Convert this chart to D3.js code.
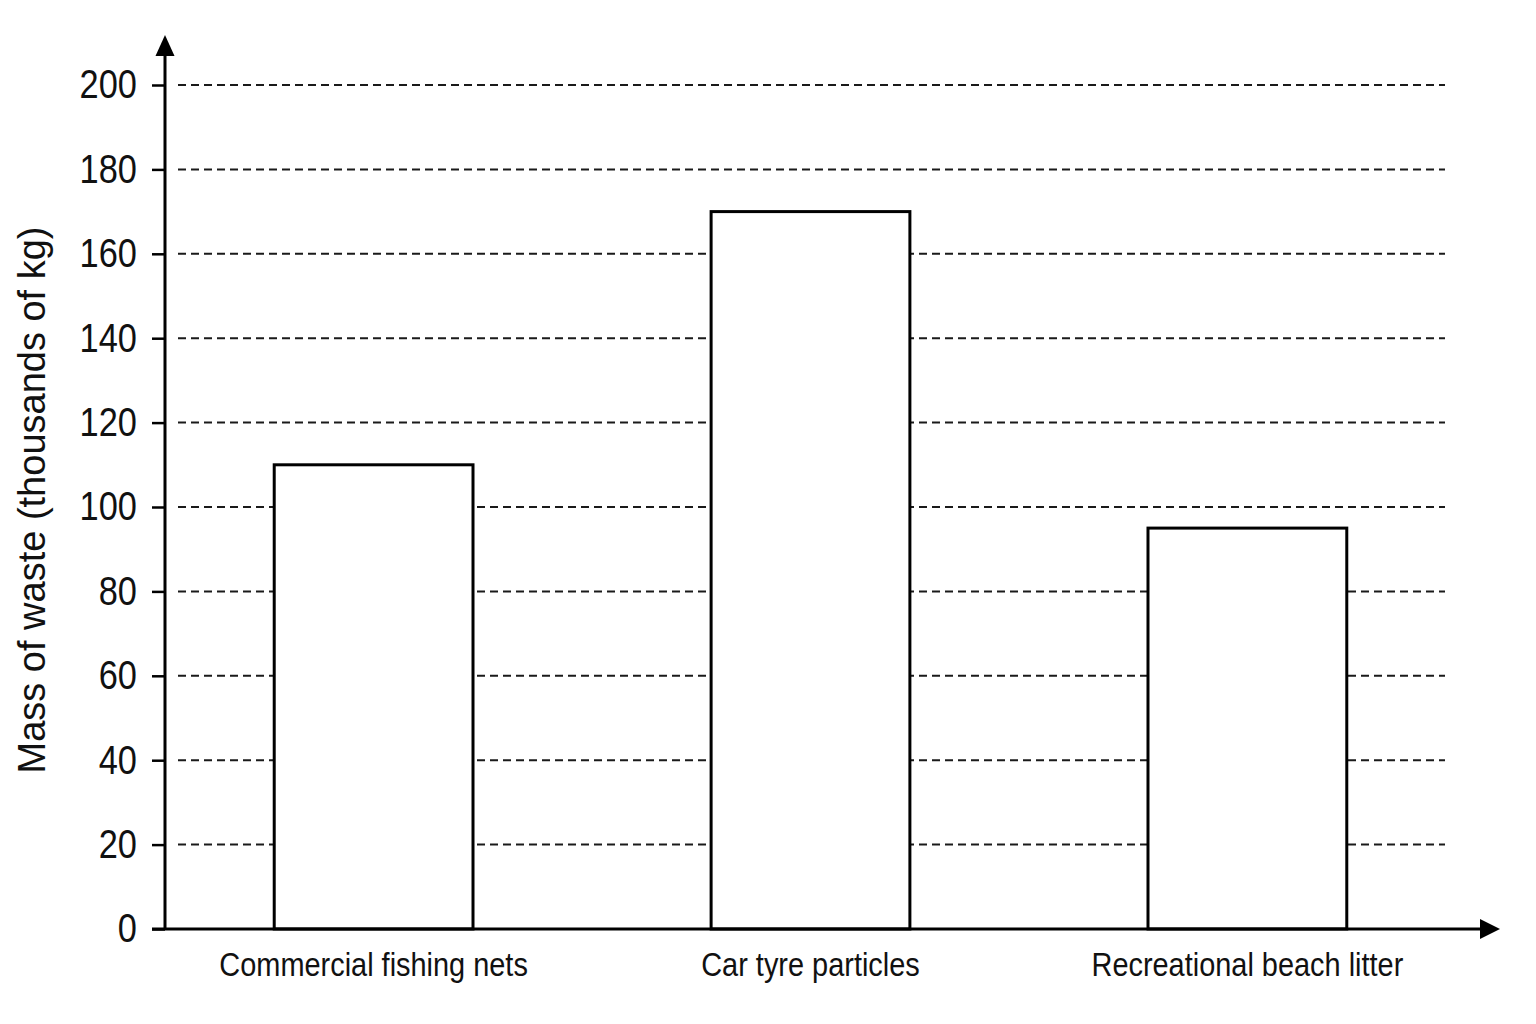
<!DOCTYPE html>
<html>
<head>
<meta charset="utf-8">
<script src="https://cdn.jsdelivr.net/npm/d3@7"></script>
<style>
  html, body { margin: 0; padding: 0; background: #fff; }
  svg { display: block; }
</style>
</head>
<body>
<svg id="chart"></svg>
<script>
const categories = ["Commercial fishing nets", "Car tyre particles", "Recreational beach litter"];
const values = [110, 170, 95];
const yTicks = [0, 20, 40, 60, 80, 100, 120, 140, 160, 180, 200];
const yTitle = "Mass of waste (thousands of kg)";

const width = 1536;
const height = 1024;
const font = "'Liberation Sans', Arial, sans-serif";

const svg = d3.select("#chart")
  .attr("width", width)
  .attr("height", height)
  .attr("viewBox", `0 0 ${width} ${height}`);

svg.append("rect").attr("width", width).attr("height", height).attr("fill", "#fff");

// scales
const x = d3.scaleBand()
  .domain(categories)
  .range([165, 1456])
  .paddingInner(0.545)
  .paddingOuter(0.25);

const y = d3.scaleLinear()
  .domain([0, 200])
  .range([929, 85]);

const x0 = x.range()[0];

// dashed grid lines (behind bars)
svg.append("g")
  .selectAll("line")
  .data(yTicks.filter((d) => d > 0))
  .enter()
  .append("line")
  .attr("x1", x0 + 13)
  .attr("x2", 1445)
  .attr("y1", (d) => y(d))
  .attr("y2", (d) => y(d))
  .attr("stroke", "#1a1a1a")
  .attr("stroke-width", 2)
  .attr("stroke-dasharray", "8 5");

// bars
svg.append("g")
  .selectAll("rect")
  .data(values)
  .enter()
  .append("rect")
  .attr("x", (d, i) => x(categories[i]))
  .attr("y", (d) => y(d))
  .attr("width", x.bandwidth())
  .attr("height", (d) => y(0) - y(d))
  .attr("fill", "#fff")
  .attr("stroke", "#000")
  .attr("stroke-width", 3);

// y axis ticks + labels
const yAxis = d3.axisLeft(y)
  .tickValues(yTicks)
  .tickSize(13)
  .tickPadding(15)
  .tickFormat(d3.format("d"));

const gy = svg.append("g")
  .attr("transform", `translate(${x0},0)`)
  .call(yAxis);

gy.select(".domain").remove();
gy.selectAll(".tick line").attr("stroke", "#000").attr("stroke-width", 2.5);
// narrow-looking digits: squeeze horizontally
const tickSqueeze = 0.86;
gy.selectAll(".tick text")
  .attr("fill", "#111")
  .attr("x", -28 / tickSqueeze)
  .attr("transform", `scale(${tickSqueeze},1)`)
  .style("font-family", font)
  .style("font-size", "40px");

// axis lines with arrows
const yTop = y(200) - 50;
svg.append("line")
  .attr("x1", x0).attr("x2", x0)
  .attr("y1", y(0)).attr("y2", yTop + 20)
  .attr("stroke", "#000").attr("stroke-width", 3);
svg.append("path")
  .attr("d", `M${x0},${yTop} L${x0 - 9.5},${yTop + 21} L${x0 + 9.5},${yTop + 21} Z`)
  .attr("fill", "#000");

const xEnd = 1500;
svg.append("line")
  .attr("x1", x0 - 13).attr("x2", xEnd - 18)
  .attr("y1", y(0)).attr("y2", y(0))
  .attr("stroke", "#000").attr("stroke-width", 3);
svg.append("path")
  .attr("d", `M${xEnd},${y(0)} L${xEnd - 20},${y(0) - 10} L${xEnd - 20},${y(0) + 10} Z`)
  .attr("fill", "#000");

// category labels
const labelSqueeze = 0.89;
svg.append("g")
  .selectAll("text")
  .data(categories)
  .enter()
  .append("text")
  .attr("transform", (d) => `translate(${x(d) + x.bandwidth() / 2},976) scale(${labelSqueeze},1)`)
  .attr("text-anchor", "middle")
  .style("font-family", font)
  .style("font-size", "32.5px")
  .attr("fill", "#111")
  .text((d) => d);

// y title
svg.append("text")
  .attr("transform", "translate(45,500) rotate(-90)")
  .attr("text-anchor", "middle")
  .style("font-family", font)
  .style("font-size", "38px")
  .attr("fill", "#111")
  .text(yTitle);
</script>
</body>
</html>
